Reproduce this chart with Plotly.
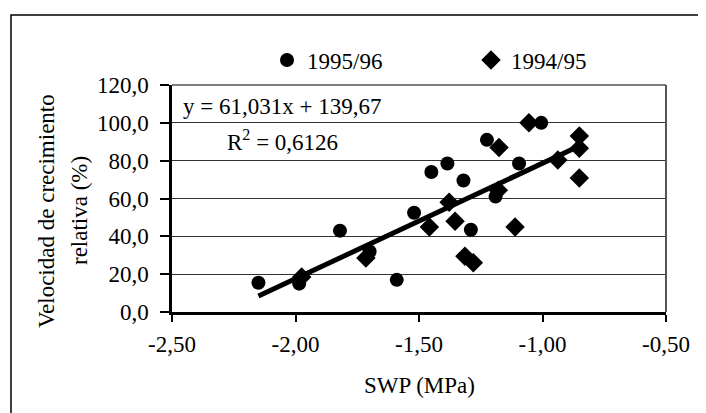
import plotly.graph_objects as go

# ---- data ----
swp_9596 = [-2.15, -1.985, -1.82, -1.70, -1.59, -1.52, -1.45, -1.385, -1.32, -1.29, -1.225, -1.19, -1.095, -1.005]
vcr_9596 = [15.5, 15.0, 43.0, 32.0, 17.0, 52.5, 74.0, 78.5, 69.5, 43.5, 91.0, 61.0, 78.5, 100.0]

swp_9495 = [-1.975, -1.715, -1.458, -1.378, -1.354, -1.314, -1.280, -1.176, -1.179, -1.111, -1.055, -0.938, -0.851, -0.851, -0.851]
vcr_9495 = [18.5, 28.5, 45.0, 58.0, 48.0, 29.5, 26.0, 87.0, 64.3, 45.0, 100.0, 80.3, 93.0, 86.6, 70.9]

slope = 61.031
intercept = 139.67
r2_text = "R<sup>2</sup> = 0,6126"
eq_text = "y = 61,031x + 139,67"

x_tickvals = [-2.5, -2.0, -1.5, -1.0, -0.5]
x_ticktext = ["-2,50", "-2,00", "-1,50", "-1,00", "-0,50"]
y_tickvals = [0, 20, 40, 60, 80, 100, 120]
y_ticktext = ["0,0", "20,0", "40,0", "60,0", "80,0", "100,0", "120,0"]

legend_names = ["1995/96", "1994/95"]
y_title_lines = ["Velocidad de crecimiento", "relativa (%)"]
x_title = "SWP (MPa)"

FONT = "Liberation Serif"
FS = 23

all_x = swp_9596 + swp_9495
x_min, x_max = min(all_x), max(all_x)
trend_x = [x_min, x_max]
trend_y = [slope * v + intercept for v in trend_x]

fig = go.Figure()
fig.add_trace(go.Scatter(x=trend_x, y=trend_y, mode="lines",
                         line=dict(color="black", width=5), showlegend=False, hoverinfo="skip"))
fig.add_trace(go.Scatter(x=swp_9596, y=vcr_9596, mode="markers", name=legend_names[0],
                         marker=dict(symbol="circle", size=14, color="black"), legend="legend"))
fig.add_trace(go.Scatter(x=swp_9495, y=vcr_9495, mode="markers", name=legend_names[1],
                         marker=dict(symbol="diamond", size=15, color="black"), legend="legend2"))

# page body has an 8px margin; figure is sized to fit the window
OFF = 8
W, H = 706 - OFF, 413 - OFF
# plot area in page pixels: x 172..666, y 85..312
L = 172 - OFF
T = 85 - OFF
R = W - (666 - OFF)
B = H - (312 - OFF)
pw, ph = W - L - R, H - T - B

def px(xp):  # page pixel -> paper x
    return (xp - OFF - L) / pw

def py(yp):  # page pixel -> paper y
    return (H - B - (yp - OFF)) / ph

fig.update_layout(
    width=W, height=H,
    margin=dict(l=L, r=R, t=T, b=B, pad=0),
    paper_bgcolor="white", plot_bgcolor="white",
    font=dict(family=FONT, size=FS, color="black"),
    legend=dict(orientation="h", x=px(267), y=py(60), xanchor="left", yanchor="middle",
                bgcolor="rgba(0,0,0,0)", font=dict(size=FS), borderwidth=0),
    legend2=dict(orientation="h", x=px(471), y=py(60), xanchor="left", yanchor="middle",
                 bgcolor="rgba(0,0,0,0)", font=dict(size=FS), borderwidth=0),
    xaxis=dict(range=[-2.5, -0.5], tickvals=x_tickvals, ticktext=x_ticktext,
               showgrid=False, zeroline=False, showline=True, linecolor="black", linewidth=2.5,
               ticks="outside", ticklen=7, tickwidth=2, tickcolor="black",
               ticklabelstandoff=3, fixedrange=True),
    yaxis=dict(range=[0, 120], tickvals=y_tickvals, ticktext=y_ticktext,
               showgrid=True, gridcolor="#333333", gridwidth=1, zeroline=False,
               showline=True, linecolor="black", linewidth=2.5,
               ticks="outside", ticklen=9, tickwidth=2, tickcolor="black",
               ticklabelstandoff=7, fixedrange=True),
    showlegend=True,
)

shapes = [
    dict(type="line", xref="paper", yref="paper", x0=0, x1=1, y0=1, y1=1,
         line=dict(color="#555555", width=1.5)),
    dict(type="line", xref="paper", yref="paper", x0=1, x1=1, y0=0, y1=1,
         line=dict(color="#555555", width=2)),
    dict(type="rect", xref="paper", yref="paper", x0=px(11), x1=px(704), y0=py(15), y1=py(440),
         line=dict(color="black", width=1.5)),
]
fig.update_layout(shapes=shapes)

annotations = [
    dict(text=eq_text, xref="paper", yref="paper", x=px(181), y=py(106), xanchor="left",
         yanchor="middle", showarrow=False, font=dict(size=FS)),
    dict(text=r2_text, xref="paper", yref="paper", x=px(225), y=py(140), xanchor="left",
         yanchor="middle", showarrow=False, font=dict(size=FS)),
    dict(text=x_title, xref="paper", yref="paper", x=0.5, y=py(386), xanchor="center",
         yanchor="middle", showarrow=False, font=dict(size=FS)),
    dict(text=y_title_lines[0], xref="paper", yref="paper", x=px(46), y=py(211), xanchor="center",
         yanchor="middle", textangle=-90, showarrow=False, font=dict(size=FS)),
    dict(text=y_title_lines[1], xref="paper", yref="paper", x=px(79), y=py(211), xanchor="center",
         yanchor="middle", textangle=-90, showarrow=False, font=dict(size=FS)),
]
fig.update_layout(annotations=annotations)

fig.write_html("out.html")
